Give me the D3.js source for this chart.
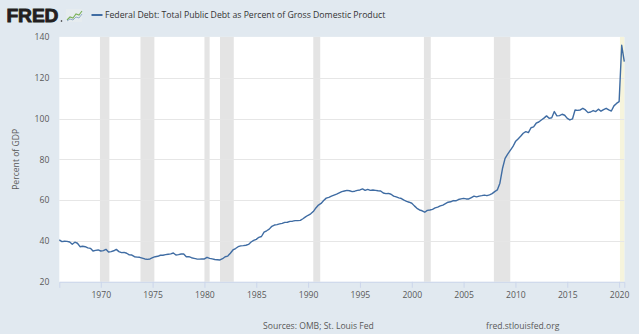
<!DOCTYPE html>
<html>
<head>
<meta charset="utf-8">
<script src="https://cdn.jsdelivr.net/npm/d3@7"></script>
<style>
  html, body { margin: 0; padding: 0; background: #e1e9f0; }
  svg { display: block; font-family: "Open Sans", sans-serif; }
</style>
</head>
<body>
<svg id="chart" width="639" height="334"></svg>
<script>
// Federal Debt: Total Public Debt as Percent of GDP, quarterly, 1966Q1 onward
const startYear = 1966;
const debtPct = [
  40.5, 39.7, 39.9, 39.8,   // 1966
  39.5, 38.4, 39.4, 38.9,   // 1967
  37.2, 37.4, 37.2, 36.6,   // 1968
  36.4, 35.1, 35.4, 35.6,   // 1969
  35.1, 35.3, 35.9, 34.6,   // 1970
  34.8, 35.2, 35.9, 34.8,   // 1971
  34.3, 34.4, 34.0, 33.2,   // 1972
  33.1, 32.3, 32.1, 32.0,   // 1973
  31.6, 31.2, 31.0, 31.2,   // 1974
  31.8, 32.3, 32.5, 33.0,   // 1975
  33.0, 33.3, 33.5, 33.7,   // 1976
  34.1, 33.1, 33.3, 33.6,   // 1977
  33.6, 32.3, 32.3, 31.8,   // 1978
  31.5, 31.2, 31.1, 31.2,   // 1979
  31.2, 32.0, 31.5, 31.2,   // 1980
  30.9, 30.8, 30.7, 31.3,   // 1981
  32.3, 32.6, 34.0, 35.6,   // 1982
  36.3, 37.2, 37.6, 37.7,   // 1983
  37.9, 38.3, 39.5, 40.3,   // 1984
  40.8, 41.8, 42.2, 44.3,   // 1985
  45.0, 45.8, 47.2, 47.8,   // 1986
  48.0, 48.4, 48.6, 49.1,   // 1987
  49.2, 49.6, 49.7, 50.0,   // 1988
  50.0, 50.1, 50.9, 51.8,   // 1989
  52.6, 53.3, 54.4, 56.2,   // 1990
  57.6, 58.4, 59.8, 61.0,   // 1991
  61.4, 62.0, 62.5, 63.0,   // 1992
  63.6, 64.2, 64.5, 64.8,   // 1993
  64.6, 64.2, 64.4, 64.8,   // 1994
  65.0, 65.5, 64.8, 65.3,   // 1995
  64.8, 65.0, 64.8, 64.6,   // 1996
  64.5, 63.5, 63.2, 63.3,   // 1997
  62.9, 62.0, 61.6, 61.1,   // 1998
  60.8, 60.0, 59.4, 59.0,   // 1999
  58.5, 57.2, 56.0, 55.2,   // 2000
  54.8, 54.1, 55.0, 55.2,   // 2001
  55.5, 56.2, 56.6, 57.2,   // 2002
  57.6, 58.3, 59.0, 59.2,   // 2003
  59.8, 59.7, 60.3, 60.6,   // 2004
  60.9, 60.6, 60.6, 61.3,   // 2005
  62.0, 61.6, 62.0, 62.2,   // 2006
  62.5, 62.2, 62.6, 63.2,   // 2007
  64.2, 65.0, 68.3, 75.5,   // 2008
  80.5, 82.6, 84.4, 86.2,   // 2009
  88.7, 90.0, 91.3, 92.8,   // 2010
  93.6, 93.1, 95.5, 95.9,   // 2011
  97.7, 98.3, 99.3, 100.2,  // 2012
  101.3, 100.1, 100.4, 103.4, // 2013
  101.3, 101.4, 102.1, 101.6, // 2014
  100.1, 99.3, 99.8, 104.2, // 2015
  104.0, 104.2, 105.0, 104.2, // 2016
  102.9, 103.2, 103.9, 103.4, // 2017
  104.6, 103.6, 104.4, 105.0, // 2018
  104.2, 103.7, 106.2, 107.4, // 2019
  108.3, 135.9, 127.9        // 2020
];

// Recessions (start, end) in decimal years
const recessionStarts = [1969.92, 1973.83, 1980.0, 1981.5, 1990.5, 2001.17, 2007.92];
const recessionEnds   = [1970.83, 1975.17, 1980.5, 1982.83, 1991.17, 2001.83, 2009.5];
const currentRecessionStart = 2020.08;

const yTicks = [20, 40, 60, 80, 100, 120, 140];
const xTickYears = [1970, 1975, 1980, 1985, 1990, 1995, 2000, 2005, 2010, 2015, 2020];

const seriesTitle = "Federal Debt: Total Public Debt as Percent of Gross Domestic Product";
const yAxisTitle = "Percent of GDP";
const sourceNote = "Sources: OMB; St. Louis Fed";
const siteNote = "fred.stlouisfed.org";

const points = debtPct.map((v, i) => ({ t: startYear + i / 4, v }));

const svg = d3.select("#chart");
const plot = { left: 59.3, right: 624.3, top: 36.9, bottom: 281.8 };

const x = d3.scaleLinear()
  .domain([startYear, points[points.length - 1].t])
  .range([plot.left, plot.right]);
const y = d3.scaleLinear().domain([20, 140]).range([plot.bottom, plot.top]);

// plot background
svg.append("rect")
  .attr("x", plot.left).attr("y", plot.top)
  .attr("width", plot.right - plot.left).attr("height", plot.bottom - plot.top)
  .attr("fill", "#ffffff");

// recession shading
svg.append("g").selectAll("rect")
  .data(d3.zip(recessionStarts, recessionEnds))
  .join("rect")
  .attr("x", d => x(d[0]))
  .attr("width", d => x(d[1]) - x(d[0]))
  .attr("y", plot.top).attr("height", plot.bottom - plot.top)
  .attr("fill", "#e4e4e4");

svg.append("rect")
  .attr("x", x(currentRecessionStart))
  .attr("width", plot.right - x(currentRecessionStart))
  .attr("y", plot.top).attr("height", plot.bottom - plot.top)
  .attr("fill", "#f6f4dc");

// horizontal gridlines
svg.append("g").selectAll("line")
  .data(yTicks.filter(d => d > 20 && d < 140))
  .join("line")
  .attr("x1", plot.left).attr("x2", plot.right)
  .attr("y1", d => Math.round(y(d)) + 0.5).attr("y2", d => Math.round(y(d)) + 0.5)
  .attr("stroke", "#e6e6e6").attr("stroke-width", 1);

// y axis
const yAxis = svg.append("g")
  .attr("transform", `translate(${plot.left - 10},0)`)
  .call(d3.axisLeft(y).tickValues(yTicks).tickSize(0).tickPadding(0));
yAxis.select(".domain").remove();
yAxis.selectAll("text")
  .attr("fill", "#595959").attr("font-size", 8.6)
  .attr("font-family", "Open Sans, sans-serif");

// x axis
const xAxis = svg.append("g")
  .attr("transform", `translate(0,${plot.bottom})`)
  .call(d3.axisBottom(x).tickValues(xTickYears).tickFormat(d3.format("d")).tickSize(6).tickPadding(4));
xAxis.select(".domain").attr("stroke", "#ccd6eb");
xAxis.selectAll(".tick line").attr("stroke", "#ccd6eb");
xAxis.selectAll("text")
  .attr("fill", "#595959").attr("font-size", 8.6)
  .attr("font-family", "Open Sans, sans-serif");

// data line
svg.append("path")
  .datum(points)
  .attr("fill", "none")
  .attr("stroke", "#3f6ca3")
  .attr("stroke-width", 1.4)
  .attr("stroke-linejoin", "round")
  .attr("d", d3.line().x(d => x(d.t)).y(d => y(d.v)));

// y axis title
svg.append("text")
  .attr("transform", `translate(19,${(plot.top + plot.bottom) / 2}) rotate(-90)`)
  .attr("text-anchor", "middle")
  .attr("fill", "#595959").attr("font-size", 8.6)
  .text(yAxisTitle);

// header: logo
svg.append("text")
  .attr("x", 6.5).attr("y", 21.8)
  .attr("font-family", "Liberation Sans, Arial, sans-serif")
  .attr("font-weight", 700).attr("font-size", 19.2)
  .attr("fill", "#231f20").attr("stroke", "#231f20").attr("stroke-width", 0.9)
  .attr("letter-spacing", -0.1)
  .text("FRED");
svg.append("circle").attr("cx", 61.5).attr("cy", 21).attr("r", 0.8).attr("fill", "#231f20");

// small chart icon beside the logo
const icon = svg.append("g").attr("transform", "translate(66,9)");
icon.append("rect").attr("width", 16).attr("height", 13).attr("fill", "#e6ecef");
icon.append("polyline")
  .attr("points", "1,11 4,8 7,9 10,5 13,6 16,2")
  .attr("fill", "none").attr("stroke", "#7ab15a").attr("stroke-width", 1.1);
icon.append("polyline")
  .attr("points", "1,12 4,10 7,11 10,8 13,9 16,5")
  .attr("fill", "none").attr("stroke", "#8aa7c4").attr("stroke-width", 0.9);

// legend
svg.append("line")
  .attr("x1", 91.5).attr("x2", 102.5).attr("y1", 15).attr("y2", 15)
  .attr("stroke", "#3f6ca3").attr("stroke-width", 2);
svg.append("text")
  .attr("x", 105).attr("y", 18.2)
  .attr("fill", "#333333").attr("font-size", 8.7)
  .text(seriesTitle);

// footer
svg.append("text")
  .attr("x", 263).attr("y", 329)
  .attr("fill", "#595959").attr("font-size", 8.6)
  .text(sourceNote);
svg.append("text")
  .attr("x", 486).attr("y", 329)
  .attr("fill", "#595959").attr("font-size", 8.6)
  .text(siteNote);
</script>
</body>
</html>
